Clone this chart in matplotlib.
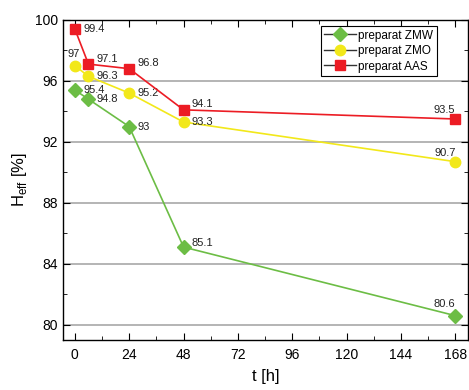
import matplotlib
matplotlib.use("Agg")
import matplotlib.pyplot as plt
from matplotlib.ticker import MultipleLocator

plt.rcParams['font.family'] = ['Liberation Sans', 'DejaVu Sans']

t = [0, 6, 24, 48, 168]
zmw = [95.4, 94.8, 93.0, 85.1, 80.6]
zmo = [97.0, 96.3, 95.2, 93.3, 90.7]
aas = [99.4, 97.1, 96.8, 94.1, 93.5]
zmw_lbl = ['95.4', '94.8', '93', '85.1', '80.6']
zmo_lbl = ['97', '96.3', '95.2', '93.3', '90.7']
aas_lbl = ['99.4', '97.1', '96.8', '94.1', '93.5']

green = '#6cbd45'
yellow = '#f2e81a'
red = '#ec1c24'

fig = plt.figure(figsize=(4.69, 3.9), dpi=100)
ax = fig.add_axes([0.134, 0.128, 0.864, 0.821])

for y in [80, 84, 88, 92, 96]:
    ax.axhline(y, color='#a8a8a8', lw=1.2, zorder=0)

ax.plot(t, zmw, color=green, lw=1.2, marker='D', ms=7, mfc=green, mec=green,
        label='preparat ZMW', zorder=3)
ax.plot(t, zmo, color=yellow, lw=1.2, marker='o', ms=7.5, mfc=yellow, mec=yellow,
        label='preparat ZMO', zorder=3)
ax.plot(t, aas, color=red, lw=1.2, marker='s', ms=7, mfc=red, mec=red,
        label='preparat AAS', zorder=4)

fs = 8
txt = '#222222'
for name, series, labels in [('zmw', zmw, zmw_lbl), ('zmo', zmo, zmo_lbl), ('aas', aas, aas_lbl)]:
    for i, (x, y) in enumerate(zip(t, series)):
        if x == 168:
            dy = 5 if name == 'zmw' else 3
            ax.annotate(labels[i], (x, y), xytext=(0, dy), textcoords='offset points',
                        ha='right', va='bottom', fontsize=fs, color=txt)
        elif name == 'zmo' and i == 0:
            ax.annotate(labels[i], (x, y), xytext=(-1, 5), textcoords='offset points',
                        ha='center', va='bottom', fontsize=fs, color=txt)
        else:
            dy = 4 if (name == 'aas' and i > 0) else 0
            if name == 'zmw' and i == 3:
                dy = 3
            ax.annotate(labels[i], (x, y), xytext=(6, dy), textcoords='offset points',
                        ha='left', va='center', fontsize=fs, color=txt)

ax.set_xlim(-5.3, 173.6)
ax.set_ylim(79, 100)
ax.xaxis.set_major_locator(MultipleLocator(24))
ax.xaxis.set_minor_locator(MultipleLocator(12))
ax.yaxis.set_major_locator(MultipleLocator(4))
ax.yaxis.set_minor_locator(MultipleLocator(2))
ax.tick_params(which='both', direction='in', top=True, right=True, labelsize=10)
ax.tick_params(axis='x', which='major', pad=6)
ax.tick_params(which='major', length=5)
ax.tick_params(which='minor', length=3)
for s in ax.spines.values():
    s.set_linewidth(1.0)

ax.set_xlabel('t [h]', fontsize=12, labelpad=5)
ax.set_ylabel('H$_{\\mathregular{eff}}$ [%]', fontsize=12)

leg = ax.legend(loc='upper right', bbox_to_anchor=(0.923, 0.981), fontsize=8.5,
                fancybox=False, edgecolor='black', framealpha=1,
                handlelength=2.7, borderpad=0.3, labelspacing=0.3, handletextpad=0.2,
                borderaxespad=0)
leg.get_frame().set_linewidth(0.8)
for h, c in zip(leg.legend_handles, [green, yellow, red]):
    h.set_color('#333333')
    h.set_linewidth(1.0)
    h.set_markerfacecolor(c)
    h.set_markeredgecolor(c)

fig.savefig('out.png', dpi=100)
